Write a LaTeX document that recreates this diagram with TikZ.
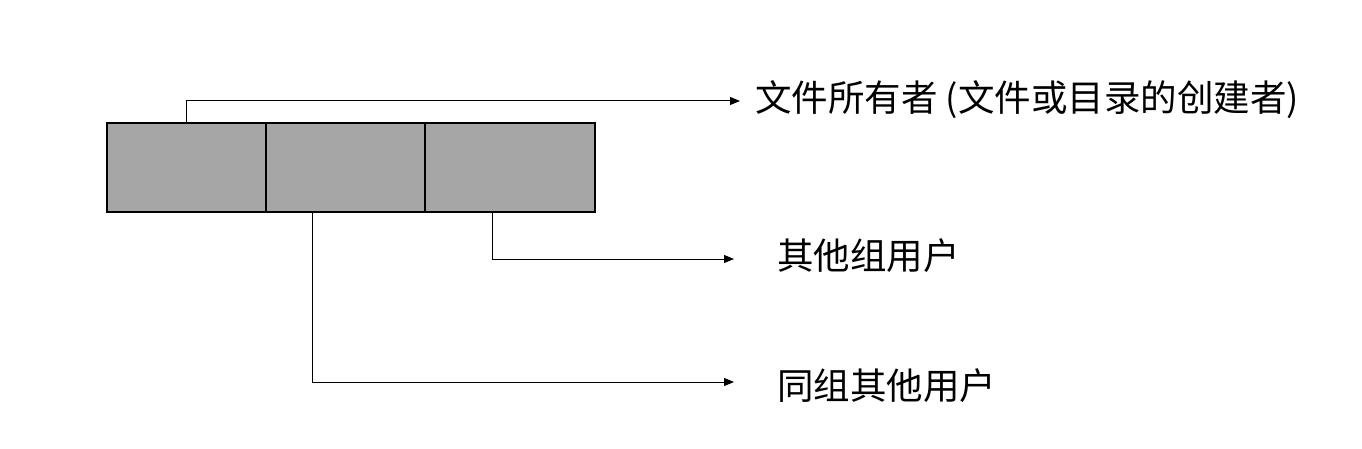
\documentclass[tikz,border=0pt]{standalone}
\usepackage{fontspec}
\newfontfamily\cjk{Noto Sans CJK SC}
\usetikzlibrary{arrows.meta}
\definecolor{boxgray}{HTML}{A6A6A6}
\tikzset{
  cell/.style={draw=black, fill=boxgray, line width=2pt, inner sep=0pt, minimum height=89pt},
  conn/.style={line width=1pt, -{Triangle[length=10pt,width=8pt]}},
  lbl/.style={anchor=west, inner sep=0pt, font=\cjk\fontsize{36.5}{44}\selectfont},
}
\begin{document}
\begin{tikzpicture}[x=1pt,y=-1pt]
\useasboundingbox[fill=white] (0,0) rectangle (1362,449);
\node[cell, minimum width=159pt] (b1) at (186.5,167.5) {};
\node[cell, minimum width=159pt] (b2) at (345.5,167.5) {};
\node[cell, minimum width=170pt] (b3) at (510,167.5) {};
\coordinate (e1) at (740,101);
\coordinate (s2) at (492,212);
\coordinate (e2) at (734,259);
\coordinate (s3) at (312,212);
\coordinate (e3) at (734,382);
\draw[conn] (b1.north) |- (e1);
\draw[conn] (s2) |- (e2);
\draw[conn] (s3) |- (e3);
\node[lbl] (t1) at (755,100) {文件所有者 (文件或目录的创建者)};
\node[lbl] (t2) at (777,256) {其他组用户};
\node[lbl] (t3) at (777,386) {同组其他用户};
\end{tikzpicture}
\end{document}
